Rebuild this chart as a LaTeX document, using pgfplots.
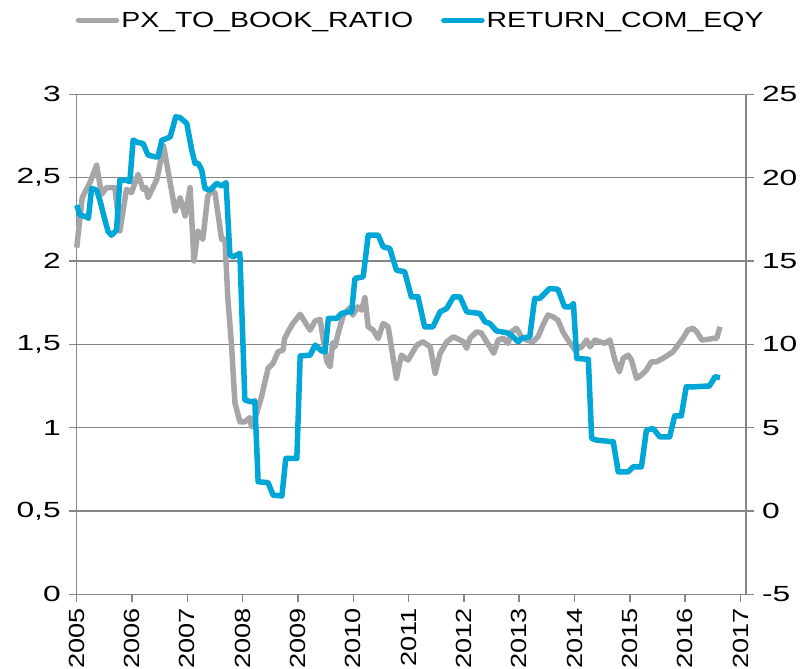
\documentclass[border=0pt]{standalone}
\usepackage{pgfplots}
\pgfplotsset{compat=1.18}
\usepackage{pgfplotstable}
\usepackage{fontspec}
\setmainfont{Liberation Sans}
\definecolor{pbgray}{RGB}{166,166,169}
\definecolor{roeblue}{RGB}{0,166,214}
\definecolor{axgray}{RGB}{134,134,134}

\pgfplotstableread{
x y
2005.00 2.08
2005.10 2.38
2005.24 2.47
2005.36 2.575
2005.45 2.40
2005.54 2.44
2005.69 2.44
2005.78 2.18
2005.90 2.43
2005.99 2.41
2006.11 2.52
2006.20 2.43
2006.25 2.44
2006.29 2.38
2006.45 2.49
2006.57 2.69
2006.69 2.47
2006.78 2.30
2006.87 2.38
2006.96 2.27
2007.05 2.44
2007.12 2.00
2007.19 2.18
2007.28 2.13
2007.37 2.39
2007.44 2.42
2007.50 2.41
2007.62 2.13
2007.68 2.13
2007.73 1.79
2007.80 1.49
2007.86 1.15
2007.95 1.035
2008.04 1.035
2008.13 1.06
2008.16 1.005
2008.22 1.05
2008.34 1.185
2008.46 1.356
2008.55 1.386
2008.64 1.455
2008.73 1.465
2008.76 1.536
2008.82 1.575
2008.91 1.626
2009.04 1.68
2009.22 1.585
2009.31 1.64
2009.40 1.65
2009.52 1.40
2009.58 1.365
2009.63 1.51
2009.67 1.485
2009.73 1.57
2009.82 1.675
2009.94 1.72
2009.99 1.675
2010.08 1.725
2010.15 1.705
2010.21 1.78
2010.27 1.605
2010.36 1.585
2010.45 1.535
2010.54 1.625
2010.63 1.605
2010.78 1.296
2010.87 1.435
2010.99 1.405
2011.15 1.495
2011.26 1.515
2011.39 1.485
2011.48 1.326
2011.57 1.446
2011.69 1.515
2011.81 1.545
2011.93 1.526
2011.99 1.515
2012.05 1.476
2012.11 1.536
2012.23 1.575
2012.32 1.566
2012.41 1.515
2012.47 1.485
2012.54 1.446
2012.62 1.526
2012.71 1.536
2012.80 1.506
2012.86 1.575
2012.95 1.596
2013.04 1.545
2013.13 1.526
2013.25 1.515
2013.34 1.545
2013.43 1.616
2013.52 1.676
2013.61 1.665
2013.70 1.645
2013.79 1.575
2013.88 1.526
2014.01 1.465
2014.13 1.485
2014.22 1.526
2014.28 1.485
2014.37 1.526
2014.46 1.515
2014.55 1.506
2014.64 1.526
2014.73 1.405
2014.81 1.335
2014.88 1.416
2014.97 1.435
2015.03 1.405
2015.12 1.296
2015.21 1.316
2015.30 1.346
2015.39 1.395
2015.48 1.395
2015.60 1.416
2015.69 1.435
2015.78 1.455
2015.87 1.495
2015.96 1.536
2016.05 1.586
2016.14 1.596
2016.21 1.575
2016.30 1.526
2016.42 1.53
2016.51 1.536
2016.57 1.536
2016.63 1.605
}\pbtable

\pgfplotstableread{
x y
2005.00 18.35
2005.06 17.75
2005.18 17.65
2005.21 17.55
2005.27 19.35
2005.36 19.25
2005.42 18.65
2005.51 17.45
2005.57 16.75
2005.63 16.55
2005.72 16.85
2005.78 19.85
2005.90 19.85
2005.96 19.75
2006.02 22.25
2006.11 22.10
2006.20 22.05
2006.29 21.35
2006.42 21.25
2006.47 21.25
2006.54 22.25
2006.63 22.35
2006.69 22.45
2006.75 23.15
2006.79 23.65
2006.87 23.60
2006.99 23.25
2007.08 21.65
2007.14 20.85
2007.20 20.85
2007.26 20.45
2007.32 19.35
2007.41 19.25
2007.53 19.65
2007.62 19.50
2007.70 19.70
2007.77 15.35
2007.83 15.25
2007.95 15.45
2008.04 6.65
2008.16 6.55
2008.22 6.60
2008.28 1.75
2008.46 1.70
2008.55 0.95
2008.71 0.90
2008.78 3.15
2008.98 3.15
2009.04 9.30
2009.22 9.35
2009.31 9.95
2009.43 9.60
2009.49 9.55
2009.55 11.55
2009.70 11.55
2009.79 11.85
2009.91 11.95
2009.97 11.95
2010.03 13.95
2010.18 14.05
2010.27 16.55
2010.45 16.55
2010.54 15.85
2010.66 15.75
2010.78 14.45
2010.93 14.35
2011.05 12.85
2011.17 12.85
2011.29 11.05
2011.44 11.05
2011.57 11.95
2011.69 12.15
2011.81 12.85
2011.93 12.85
2012.05 11.95
2012.29 11.85
2012.38 11.35
2012.47 11.25
2012.59 10.80
2012.77 10.70
2012.86 10.55
2012.98 10.15
2013.04 10.35
2013.19 10.45
2013.28 12.75
2013.37 12.75
2013.46 13.05
2013.55 13.35
2013.70 13.30
2013.82 12.25
2013.92 12.25
2013.98 12.45
2014.04 9.15
2014.25 9.10
2014.31 4.35
2014.40 4.25
2014.55 4.20
2014.70 4.15
2014.79 2.35
2014.97 2.35
2015.06 2.65
2015.21 2.65
2015.30 4.85
2015.42 4.95
2015.54 4.45
2015.72 4.45
2015.81 5.70
2015.93 5.70
2016.02 7.45
2016.17 7.45
2016.44 7.50
2016.54 8.05
2016.63 8.00
}\roetable

\pgfplotsset{
  basestyle/.style={
    at={(0,0)}, anchor=south west,
    scale only axis, width=669.3bp, height=500bp,
    xmin=2005, xmax=2017.1,
    axis line style={axgray, line width=1.5bp},
    tick style={axgray, line width=1.5bp},
    major tick length=8bp,
    tick align=outside,
    tick label style={font=\fontsize{22}{26}\selectfont, black},
    /pgf/number format/assume math mode=true,
    /pgf/number format/use comma,
    clip=false,
  },
}

\begin{document}
\begin{tikzpicture}
\begin{axis}[basestyle,
  ymin=0, ymax=3,
  axis x line*=bottom, axis y line*=left,
  xtick={2005,2006,...,2017},
  xticklabel style={rotate=90, xscale=1.24, anchor=east, xshift=-1bp},
  x tick label style={/pgf/number format/1000 sep={}},
  ytick={0,0.5,1,1.5,2,2.5,3},
  yticklabel style={/pgf/number format/fixed, xscale=1.45, xshift=-2bp},
  ymajorgrids,
  grid style={axgray, line width=1.5bp},
]
\addplot[pbgray, line width=5.5bp, line join=round] table[x=x,y=y]{\pbtable};
\end{axis}
\begin{axis}[basestyle,
  ymin=-5, ymax=25,
  axis y line*=right, axis x line=none,
  ytick={-5,0,5,10,15,20,25},
  yticklabel style={xscale=1.45, xshift=2bp},
  legend style={at={(0.514,1)}, anchor=center, yshift=74bp, draw=none, fill=none,
    legend columns=2, font=\fontsize{22}{26}\selectfont,
    /tikz/every even column/.append style={column sep=26bp}},
  legend image code/.code={\draw[#1, line cap=round] (0bp,0bp) -- (38bp,0bp);},
]
\addlegendimage{pbgray, line width=5.5bp}
\addlegendentry{\scalebox{1.3}[1]{PX\_TO\_BOOK\_RATIO}}
\addplot[roeblue, line width=5.5bp, line join=round] table[x=x,y=y]{\roetable};
\addlegendentry{\scalebox{1.3}[1]{RETURN\_COM\_EQY}}
\end{axis}
\pgfresetboundingbox
\path[use as bounding box] (-76.7bp,-74.7bp) rectangle (724.3bp,594.3bp);
\end{tikzpicture}
\end{document}
